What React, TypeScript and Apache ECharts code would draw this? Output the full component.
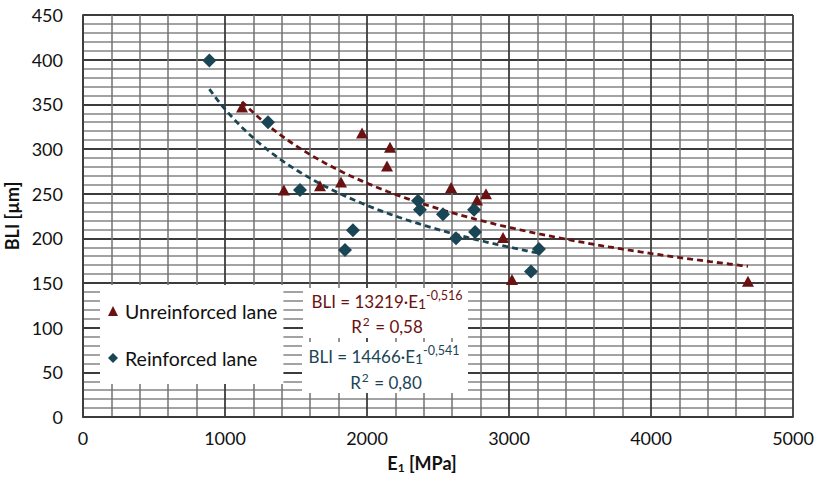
import React, { useEffect, useRef } from "react";
import * as echarts from "echarts";

// Unreinforced lane (E1 [MPa], BLI [µm])
const unreinforcedE1 = [1120, 1415, 1669, 1817, 1965, 2141, 2162, 2592, 2775, 2838, 2958, 3021, 4683];
const unreinforcedBLI = [347, 254, 259, 263, 318, 281, 302, 257, 243, 250, 201, 154, 152];
// Reinforced lane
const reinforcedE1 = [890, 1303, 1528, 1845, 1901, 2359, 2373, 2535, 2627, 2754, 2761, 3155, 3211];
const reinforcedBLI = [399, 330, 254, 187, 209, 242, 232, 227, 200, 232, 207, 163, 188];

// Power trend lines BLI = a * E1^b (as printed on the chart)
const trendA = [13219, 14466];
const trendB = [-0.516, -0.541];
const trendR2 = ["0,58", "0,80"];

const xTicks = [0, 1000, 2000, 3000, 4000, 5000];
const yTicks = [0, 50, 100, 150, 200, 250, 300, 350, 400, 450];

const RED = "#6a1212";
const TEAL = "#1a4555";
const FONT = "Lato, 'Open Sans', sans-serif";

function trend(xs: number[], a: number, b: number) {
  const lo = Math.min(...xs);
  const hi = Math.max(...xs);
  const pts: number[][] = [];
  const n = 80;
  for (let i = 0; i <= n; i++) {
    const x = lo + ((hi - lo) * i) / n;
    pts.push([x, a * Math.pow(x, b)]);
  }
  return pts;
}

export default function App() {
  const ref = useRef<HTMLDivElement>(null);
  useEffect(() => {
    if (!ref.current) return;
    const chart = echarts.init(ref.current, undefined, { renderer: "svg" });
    const eqRich = (color: string) => ({
      a: { fontSize: 17, fill: color, fontFamily: FONT },
      s: { fontSize: 14, fill: color, fontFamily: FONT, padding: [4, 0, 0, 0] },
      p: { fontSize: 12.5, fill: color, fontFamily: FONT, padding: [0, 0, 11, 0] },
      q: { fontSize: 12, fill: color, fontFamily: FONT, padding: [0, 1, 9, 1] },
    });
    chart.setOption({
      animation: false,
      backgroundColor: "#fff",
      grid: { left: 83, right: 24, top: 15, bottom: 64, containLabel: false, outerBoundsMode: "none" },
      xAxis: {
        type: "value",
        min: xTicks[0],
        max: xTicks[xTicks.length - 1],
        interval: 1000,
        name: "{b|E}{s|1}{b| [MPa]}",
        nameLocation: "middle",
        nameGap: 36,
        nameTextStyle: {
          padding: [0, 32, 0, 0],
          rich: {
            b: { fontSize: 18, fontWeight: "bold", color: "#111", fontFamily: FONT },
            s: { fontSize: 12, fontWeight: "bold", color: "#111", fontFamily: FONT, padding: [8, 0, 0, 0] },
          },
        },
        axisLine: { show: true, lineStyle: { color: "#3c3c3c", width: 1.8 } },
        axisTick: { show: false },
        axisLabel: {
          fontSize: 18,
          color: "#111",
          fontFamily: FONT,
          margin: 12,
          formatter: (v: number) => String(v),
        },
        splitLine: { show: true, lineStyle: { color: "#3c3c3c", width: 1.8 } },
        minorTick: { show: false, splitNumber: 5 },
        minorSplitLine: { show: true, lineStyle: { color: "#727272", width: 1.5 } },
      },
      yAxis: {
        type: "value",
        min: yTicks[0],
        max: yTicks[yTicks.length - 1],
        interval: 50,
        name: "BLI [µm]",
        nameLocation: "middle",
        nameGap: 46,
        nameTextStyle: { fontSize: 18, fontWeight: "bold", color: "#111", fontFamily: FONT },
        axisLine: { show: true, lineStyle: { color: "#3c3c3c", width: 1.8 } },
        axisTick: { show: false },
        axisLabel: { fontSize: 18, color: "#111", fontFamily: FONT, margin: 20 },
        splitLine: { show: true, lineStyle: { color: "#3c3c3c", width: 1.8 } },
        minorTick: { show: false, splitNumber: 5 },
        minorSplitLine: { show: true, lineStyle: { color: "#858585", width: 1.5 } },
      },
      legend: {
        data: [
          { name: "Unreinforced lane", icon: "triangle" },
          { name: "Reinforced lane", icon: "diamond" },
        ],
        orient: "vertical",
        left: 100,
        top: 285,
        padding: [16, 6, 16, 8],
        itemGap: 27,
        itemWidth: 10,
        itemHeight: 10,
        backgroundColor: "#fff",
        textStyle: { fontSize: 19.5, color: "#111", fontFamily: FONT, padding: [0, 0, 0, 2] },
        z: 5,
      },
      series: [
        {
          name: "Unreinforced trend",
          type: "line",
          data: trend(unreinforcedE1, trendA[0], trendB[0]),
          showSymbol: false,
          lineStyle: { color: RED, width: 2.8, type: [6, 4] },
          z: 3,
          silent: true,
        },
        {
          name: "Reinforced trend",
          type: "line",
          data: trend(reinforcedE1, trendA[1], trendB[1]),
          showSymbol: false,
          lineStyle: { color: TEAL, width: 2.8, type: [6, 4] },
          z: 3,
          silent: true,
        },
        {
          name: "Unreinforced lane",
          type: "scatter",
          symbol: "triangle",
          symbolSize: [12, 11],
          data: unreinforcedE1.map((x, i) => [x, unreinforcedBLI[i]]),
          itemStyle: { color: RED, opacity: 1 },
          z: 4,
        },
        {
          name: "Reinforced lane",
          type: "scatter",
          symbol: "diamond",
          symbolSize: 14,
          data: reinforcedE1.map((x, i) => [x, reinforcedBLI[i]]),
          itemStyle: { color: TEAL, opacity: 1 },
          z: 4,
        },
      ],
      graphic: [
        { type: "rect", z: 10, shape: { x: 303, y: 288, width: 165, height: 50 }, style: { fill: "#fff" } },
        { type: "rect", z: 10, shape: { x: 302, y: 342, width: 166, height: 51 }, style: { fill: "#fff" } },
        {
          type: "text",
          z: 11,
          x: 387,
          y: 301,
          style: {
            text: "{a|BLI = " + trendA[0] + "·E}{s|1}{p|" + String(trendB[0]).replace(".", ",") + "}",
            align: "center",
            verticalAlign: "middle",
            rich: eqRich(RED),
          },
        },
        {
          type: "text",
          z: 11,
          x: 387,
          y: 326,
          style: {
            text: "{a|R}{q|2}{a| = " + trendR2[0] + "}",
            align: "center",
            verticalAlign: "middle",
            rich: eqRich(RED),
          },
        },
        {
          type: "text",
          z: 11,
          x: 384,
          y: 356,
          style: {
            text: "{a|BLI = " + trendA[1] + "·E}{s|1}{p|" + String(trendB[1]).replace(".", ",") + "}",
            align: "center",
            verticalAlign: "middle",
            rich: eqRich(TEAL),
          },
        },
        {
          type: "text",
          z: 11,
          x: 386,
          y: 382,
          style: {
            text: "{a|R}{q|2}{a| = " + trendR2[1] + "}",
            align: "center",
            verticalAlign: "middle",
            rich: eqRich(TEAL),
          },
        },
      ],
    });
    return () => chart.dispose();
  }, []);
  return (
    <div
      ref={ref}
      style={{ position: "fixed", left: 0, top: 0, width: 817, height: 481, background: "#fff" }}
    />
  );
}
